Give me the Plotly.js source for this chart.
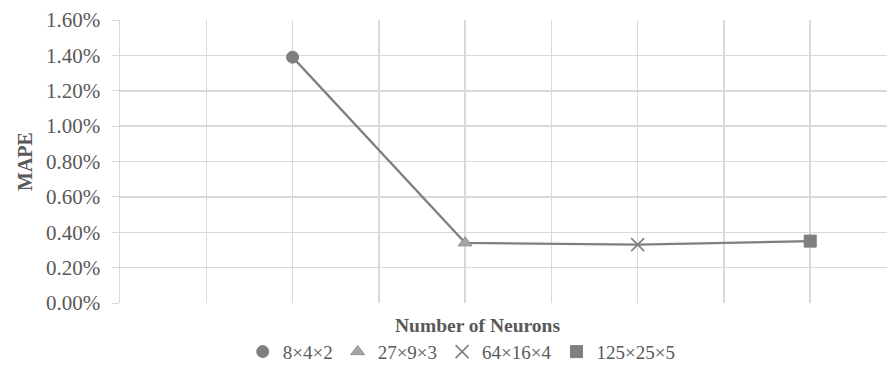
<!DOCTYPE html>
<html>
<head>
<meta charset="utf-8">
<script src="https://cdn.plot.ly/plotly-3.0.1.min.js"></script>
<style>html,body{margin:0;padding:0;background:#fff;}#chart{width:887px;height:376px;}</style>
</head>
<body>
<div id="chart"></div>
<script>
// Data
var seriesNames = ["8×4×2", "27×9×3", "64×16×4", "125×25×5"];
var xPositions = [2, 4, 6, 8];
var mapeValues = [0.0139, 0.0034, 0.0033, 0.0035];
var yTickValues = [0, 0.002, 0.004, 0.006, 0.008, 0.010, 0.012, 0.014, 0.016];
var yTickLabels = ["0.00%", "0.20%", "0.40%", "0.60%", "0.80%", "1.00%", "1.20%", "1.40%", "1.60%"];
var symbols = ["circle", "triangle-up", "x-thin-open", "square"];
var markerColors = ["#7f7f7f", "#a5a5a5", "#7f7f7f", "#7f7f7f"];
var markerSizes = [12, 12, 13, 12];

var FAM = "'Liberation Serif', 'Times New Roman', Times, serif";
var traces = [{
  x: xPositions, y: mapeValues, mode: "lines", type: "scatter",
  line: {color: "#808080", width: 2.25}, showlegend: false, hoverinfo: "skip"
}];
for (var i = 0; i < seriesNames.length; i++) {
  traces.push({
    x: [xPositions[i]], y: [mapeValues[i]], mode: "markers", type: "scatter",
    name: seriesNames[i],
    marker: {symbol: symbols[i], size: markerSizes[i], color: markerColors[i],
      line: {color: i === 1 ? "#8c8c8c" : "#7f7f7f", width: i === 2 ? 1.6 : 1}}
  });
}

var layout = {
  width: 887, height: 376,
  margin: {l: 120, r: 0, t: 20, b: 73, autoexpand: false},
  paper_bgcolor: "#fff", plot_bgcolor: "#fff",
  font: {family: FAM, size: 20, color: "#595959"},
  showlegend: true,
  xaxis: {
    range: [0, 8.89], dtick: 1, tick0: 0, showticklabels: false,
    showgrid: true, gridcolor: "#d9d9d9", gridwidth: 1.5,
    zeroline: false, showline: false, ticks: "", fixedrange: true
  },
  yaxis: {
    range: [0, 0.016], tickvals: yTickValues, ticktext: yTickLabels,
    showgrid: true, gridcolor: "#d9d9d9", gridwidth: 1.5,
    zeroline: false, showline: true, linecolor: "#d9d9d9", linewidth: 1.5,
    ticks: "outside", ticklen: 7, tickcolor: "#d9d9d9", ticklabelstandoff: 7,
    tickfont: {family: FAM, size: 21, color: "#595959"},
    title: {text: "<b>MAPE</b>", font: {family: FAM, size: 20, color: "#595959"}, standoff: 8},
    automargin: false
  },
  legend: {
    orientation: "h", x: 0.16, xanchor: "left", yref: "container", y: 0.115, yanchor: "top",
    font: {family: FAM, size: 19, color: "#595959"}, itemwidth: 30, tracegroupgap: 0,
    bgcolor: "rgba(0,0,0,0)"
  },
  annotations: [{
    text: "<b>Number of Neurons</b>", xref: "paper", yref: "paper",
    x: 0.4655, y: -0.035, xanchor: "center", yanchor: "top", showarrow: false,
    font: {family: FAM, size: 19.5, color: "#595959"}
  }]
};
Plotly.newPlot("chart", traces, layout, {displayModeBar: false, staticPlot: true});
</script>
</body>
</html>
